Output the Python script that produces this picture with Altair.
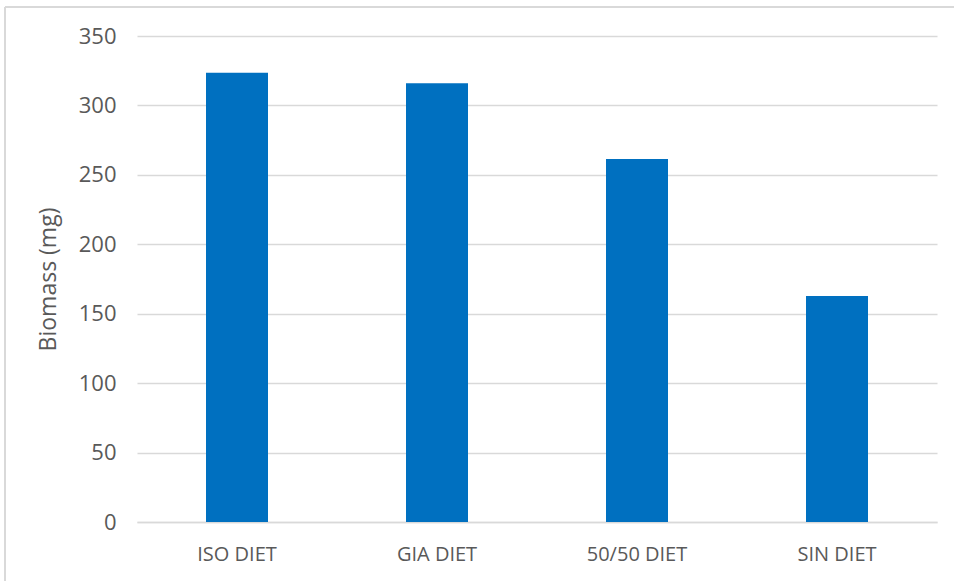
import altair as alt
import pandas as pd

# Biomass per diet group
diets = ["ISO DIET", "GIA DIET", "50/50 DIET", "SIN DIET"]
biomass_mg = [323.5, 316.0, 261.5, 162.7]

df = pd.DataFrame({"diet": diets, "biomass": biomass_mg})

FONT = "Open Sans"
TEXT = "#595959"
GRID = "#d9d9d9"

bars = alt.Chart(df).mark_bar(color="#0070C0").encode(
    x=alt.X(
        "diet:N",
        sort=diets,
        title=None,
        scale=alt.Scale(paddingInner=0.69, paddingOuter=0.345),
        axis=alt.Axis(
            labelAngle=0,
            labelFont=FONT,
            labelFontSize=20,
            labelColor=TEXT,
            labelPadding=22,
            ticks=False,
            domain=True,
            domainColor=GRID,
            domainWidth=1.5,
            grid=False,
        ),
    ),
    y=alt.Y(
        "biomass:Q",
        title="Biomass (mg)",
        scale=alt.Scale(domain=[0, 350], nice=False),
        axis=alt.Axis(
            values=[0, 50, 100, 150, 200, 250, 300, 350],
            labelFont=FONT,
            labelFontSize=22,
            labelColor=TEXT,
            labelPadding=21,
            ticks=False,
            domain=False,
            grid=True,
            gridColor=GRID,
            gridWidth=1.5,
            titleFont=FONT,
            titleFontSize=23,
            titleFontWeight="normal",
            titleColor=TEXT,
            titlePadding=18,
        ),
    ),
)

# light frame edges (top and left) around the chart
frame_top = alt.Chart(df).mark_rule(color=GRID, strokeWidth=2).encode(
    x=alt.value(-132), x2=alt.value(900), y=alt.value(-29)
)
frame_left = alt.Chart(df).mark_rule(color=GRID, strokeWidth=2).encode(
    x=alt.value(-132), y=alt.value(-29), y2=alt.value(700)
)

chart = alt.layer(frame_top, frame_left, bars).properties(
    width=800,
    height=486,
    padding={"left": 137, "top": 36, "right": 17, "bottom": 59},
    autosize=alt.AutoSizeParams(type="none"),
    background="white",
).configure_view(strokeWidth=0)

chart.save("out.html", embed_options={"renderer": "svg", "actions": False})
